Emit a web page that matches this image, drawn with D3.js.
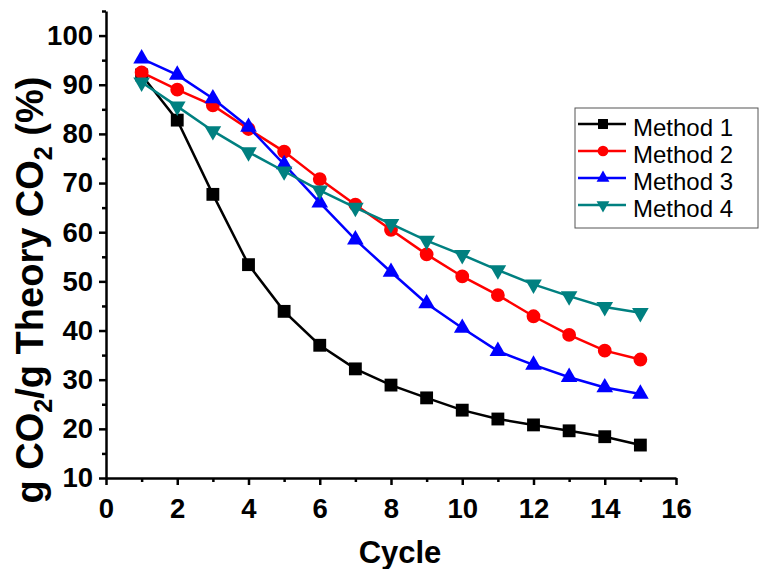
<!DOCTYPE html>
<meta charset="utf-8">
<html>
<head>
  <title>CO2 capacity vs cycle</title>
  <style>
    body { margin: 0; background: #fff; }
    svg { width: 759px; height: 569px; font-family: Arial, 'Liberation Sans', sans-serif; }
    .axis path, .axis line { stroke: #000; stroke-width: 2.5px; }
    .series { fill: none; stroke-width: 2.5px; }
  </style>
  <script src="https://d3js.org/d3.v7.min.js"></script>
</head>
<body>
  <svg></svg>
  <script>
    // data
    var cycles = [1, 2, 3, 4, 5, 6, 7, 8, 9, 10, 11, 12, 13, 14, 15];
    var method1 = [92, 82.8, 67.7, 53.4, 43.9, 37, 32.2, 28.9, 26.3, 23.8, 22, 20.8, 19.6, 18.4, 16.7];
    var method2 = [92.5, 89, 85.8, 81, 76.4, 70.8, 65.6, 60.5, 55.5, 51, 47.2, 42.9, 39.1, 35.9, 34.1];
    var method3 = [95.3, 92, 87.2, 81.4, 73.8, 66, 58.5, 51.9, 45.5, 40.5, 35.8, 33, 30.5, 28.4, 27.1];
    var method4 = [90.5, 85.6, 80.6, 76.3, 72.4, 68.5, 65, 61.7, 58.3, 55.4, 52.3, 49.4, 47, 44.8, 43.6];
    var names = ["Method 1", "Method 2", "Method 3", "Method 4"];
    var colors = ["#000000", "#ff0000", "#0000ff", "#008080"];
    var symbols = ["square", "circle", "triangle", "triangleDown"];
    var xTicks = [0, 2, 4, 6, 8, 10, 12, 14, 16];
    var yTicks = [10, 20, 30, 40, 50, 60, 70, 80, 90, 100];

    var series = [method1, method2, method3, method4].map(function(vals, i) {
      return { name: names[i], color: colors[i], symbol: symbols[i],
               values: vals.map(function(v, j) { return { x: cycles[j], y: v }; }) };
    });

    var svg = d3.select("svg");
    var margin = { top: 11, left: 106, right: 83, bottom: 91 };
    var width = 759 - margin.left - margin.right;   // 570
    var height = 569 - margin.top - margin.bottom;  // 467

    var x = d3.scaleLinear().domain([0, 16]).range([0, width]);
    var y = d3.scaleLinear().domain([10, 105]).range([height, 0]);

    var g = svg.append("g")
      .attr("transform", "translate(" + margin.left + "," + margin.top + ")");

    // minor ticks
    g.append("g").attr("class", "axis")
      .attr("transform", "translate(0," + height + ")")
      .call(d3.axisBottom(x).tickValues(d3.range(1, 16, 2)).tickSize(4).tickFormat(""))
      .select(".domain").remove();
    g.append("g").attr("class", "axis")
      .call(d3.axisLeft(y).tickValues(d3.range(15, 106, 10)).tickSize(4).tickFormat(""))
      .select(".domain").remove();

    // major axes
    var xAxisG = g.append("g").attr("class", "axis")
      .attr("transform", "translate(0," + height + ")")
      .call(d3.axisBottom(x).tickValues(xTicks).tickSize(7).tickSizeOuter(0).tickPadding(13));
    var yAxisG = g.append("g").attr("class", "axis")
      .call(d3.axisLeft(y).tickValues(yTicks).tickSize(7).tickSizeOuter(0).tickPadding(6));
    [xAxisG, yAxisG].forEach(function(a) {
      a.attr("font-family", null).attr("font-size", null);
      a.selectAll("text")
        .style("font-family", "Arial, 'Liberation Sans', sans-serif")
        .style("font-weight", "bold").style("font-size", "27.5px").style("fill", "#000");
    });

    var line = d3.line()
      .x(function(d) { return x(d.x); })
      .y(function(d) { return y(d.y); });

    function symbolPath(name, k) {
      var size = { square: 165, circle: 150, triangle: 120, triangleDown: 120 }[name] * (k || 1);
      var type = { square: d3.symbolSquare, circle: d3.symbolCircle,
                   triangle: d3.symbolTriangle, triangleDown: d3.symbolTriangle }[name];
      return d3.symbol().type(type).size(size)();
    }
    function symbolRotate(name) { return name === "triangleDown" ? " rotate(180)" : ""; }

    var sg = g.selectAll(".s").data(series).enter().append("g");
    sg.append("path")
      .attr("class", "series")
      .attr("stroke", function(d) { return d.color; })
      .attr("d", function(d) { return line(d.values); });
    sg.each(function(s) {
      d3.select(this).selectAll(".pt").data(s.values).enter().append("path")
        .attr("d", symbolPath(s.symbol))
        .attr("fill", s.color)
        .attr("transform", function(d) {
          return "translate(" + x(d.x) + "," + y(d.y) + ")" + symbolRotate(s.symbol);
        });
    });

    // axis titles
    svg.append("text")
      .attr("x", 400)
      .attr("y", 563)
      .attr("text-anchor", "middle")
      .style("font-weight", "bold").style("font-size", "31px")
      .text("Cycle");

    var yt = svg.append("text")
      .attr("transform", "translate(43,290) rotate(-90)")
      .attr("text-anchor", "middle")
      .style("font-weight", "bold").style("font-size", "38px");
    yt.append("tspan").text("g CO");
    yt.append("tspan").attr("dy", 9).style("font-size", "25px").text("2");
    yt.append("tspan").attr("dy", -9).text("/g Theory CO");
    yt.append("tspan").attr("dy", 9).style("font-size", "25px").text("2");
    yt.append("tspan").attr("dy", -9).text(" (%)");

    // legend
    var lg = svg.append("g").attr("transform", "translate(575,108)");
    lg.append("rect").attr("width", 183).attr("height", 120)
      .attr("fill", "#fff").attr("stroke", "#555").attr("stroke-width", 1);
    series.forEach(function(s, i) {
      var row = lg.append("g").attr("transform", "translate(0," + (16 + i * 27) + ")");
      row.append("line").attr("x1", 3).attr("x2", 51).attr("y1", 0).attr("y2", 0)
        .attr("stroke", s.color).attr("stroke-width", 2.5);
      row.append("path").attr("d", symbolPath(s.symbol, 0.6)).attr("fill", s.color)
        .attr("transform", "translate(28,0)" + symbolRotate(s.symbol));
      row.append("text").attr("x", 58).attr("y", 12)
        .style("font-size", "24px").text(s.name);
    });
  </script>
</body>
</html>
